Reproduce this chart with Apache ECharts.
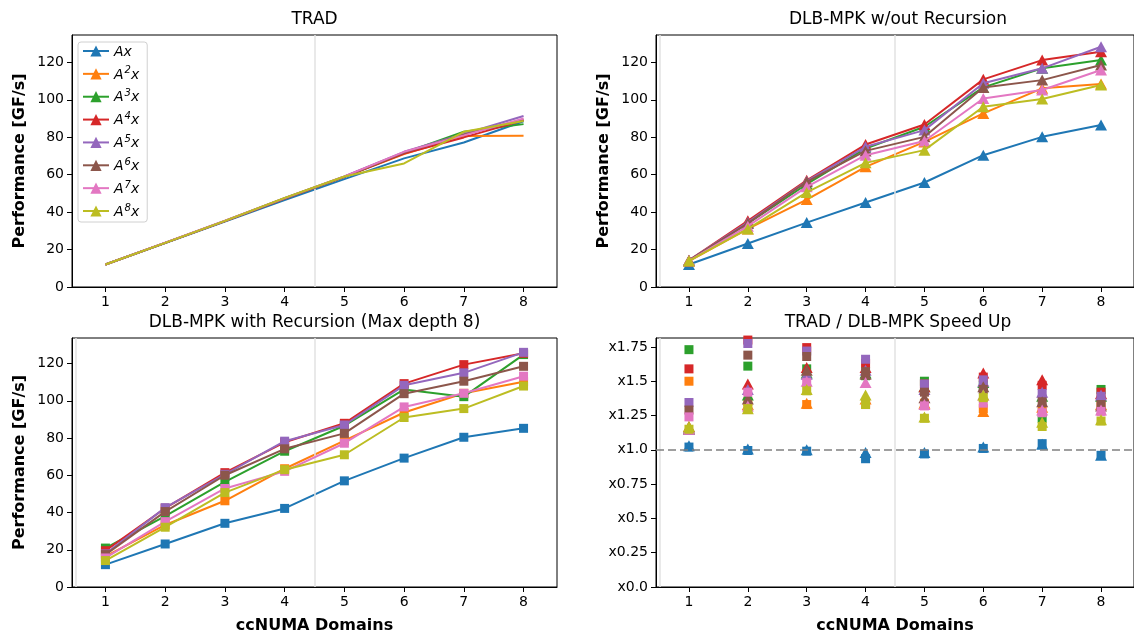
<!DOCTYPE html>
<html><head><meta charset="utf-8">
<script src="https://cdn.jsdelivr.net/npm/echarts@6/dist/echarts.min.js"></script>
<style>html,body{margin:0;padding:0;background:#fff}#c{width:1134px;height:635px}</style>
</head><body><div id="c"></div>
<script>
// ---------------- data ----------------
const domains = [1, 2, 3, 4, 5, 6, 7, 8];
const powers = [1, 2, 3, 4, 5, 6, 7, 8];
const seriesNames = ['Ax', 'A^2x', 'A^3x', 'A^4x', 'A^5x', 'A^6x', 'A^7x', 'A^8x'];
const colors = ['#1f77b4', '#ff7f0e', '#2ca02c', '#d62728', '#9467bd', '#8c564b', '#e377c2', '#bcbd22'];

// TRAD performance [GF/s]
const tradAx  = [12, 23.5, 35.0, 46.4, 57.6, 68.7, 77.2, 88.5];
const tradA2x = [12, 23.6, 35.2, 47.2, 58.8, 71.0, 80.6, 80.8];
const tradA3x = [12, 23.6, 35.2, 47.3, 58.8, 71.6, 82.9, 87.0];
const tradA4x = [12, 23.6, 35.2, 47.3, 58.8, 71.3, 79.9, 89.0];
const tradA5x = [12, 23.6, 35.3, 47.4, 59.0, 72.2, 81.7, 91.3];
const tradA6x = [12, 23.6, 35.3, 47.4, 58.9, 71.8, 81.4, 89.5];
const tradA7x = [12, 23.7, 35.4, 47.5, 59.1, 72.2, 81.0, 90.0];
const tradA8x = [12, 23.6, 35.3, 47.6, 59.0, 66.0, 82.9, 88.7];

// DLB-MPK w/out recursion
const noRecAx  = [12.0, 23.2, 34.4, 45.1, 55.8, 70.4, 80.2, 86.5];
const noRecA2x = [13.8, 31.0, 46.7, 64.2, 77.5, 92.7, 106.1, 108.4];
const noRecA3x = [14.0, 34.0, 54.9, 74.0, 85.6, 106.6, 116.8, 121.2];
const noRecA4x = [14.3, 35.4, 57.0, 76.1, 86.8, 110.9, 121.2, 125.7];
const noRecA5x = [14.2, 34.5, 56.5, 74.9, 83.8, 108.8, 116.8, 128.3];
const noRecA6x = [14.2, 34.0, 56.2, 72.7, 80.2, 106.6, 110.5, 118.6];
const noRecA7x = [14.0, 32.5, 53.5, 70.4, 78.0, 100.7, 105.2, 115.9];
const noRecA8x = [14.0, 31.0, 50.5, 66.3, 73.1, 96.3, 100.4, 107.9];

// DLB-MPK with recursion (max depth 8)
const recAx  = [12.0, 23.1, 34.2, 42.2, 57.0, 69.2, 80.4, 85.2];
const recA2x = [16.5, 33.3, 46.3, 63.5, 78.6, 93.7, 104.0, 110.2];
const recA3x = [20.9, 38.1, 56.4, 72.9, 86.6, 106.1, 102.2, 124.8];
const recA4x = [19.5, 42.3, 61.4, 77.7, 87.9, 109.2, 119.4, 125.5];
const recA5x = [17.8, 42.6, 60.5, 78.3, 87.0, 108.3, 115.0, 126.0];
const recA6x = [17.4, 40.5, 60.0, 74.2, 82.5, 103.8, 110.5, 118.5];
const recA7x = [15.6, 35.1, 52.9, 62.1, 77.2, 96.7, 104.0, 113.2];
const recA8x = [14.2, 32.1, 50.7, 63.0, 71.0, 91.0, 95.8, 107.9];

// Speed up: squares (with recursion), triangles (w/out recursion)
const spRecAx  = [1.02, 0.995, 0.99, 0.935, 0.97, 1.01, 1.045, 0.96];
const spRecA2x = [1.50, 1.35, 1.33, 1.34, 1.34, 1.30, 1.29, 1.34];
const spRecA3x = [1.73, 1.61, 1.59, 1.54, 1.50, 1.47, 1.23, 1.44];
const spRecA4x = [1.59, 1.80, 1.745, 1.63, 1.48, 1.53, 1.47, 1.42];
const spRecA5x = [1.345, 1.775, 1.72, 1.66, 1.48, 1.51, 1.41, 1.39];
const spRecA6x = [1.29, 1.69, 1.68, 1.57, 1.42, 1.44, 1.35, 1.33];
const spRecA7x = [1.24, 1.42, 1.49, 1.33, 1.32, 1.34, 1.27, 1.28];
const spRecA8x = [1.15, 1.30, 1.43, 1.33, 1.23, 1.38, 1.17, 1.21];

const spNoRecAx  = [1.03, 1.005, 1.0, 0.98, 0.98, 1.02, 1.04, 0.96];
const spNoRecA2x = [1.15, 1.33, 1.34, 1.37, 1.34, 1.28, 1.31, 1.33];
const spNoRecA3x = [1.15, 1.40, 1.56, 1.56, 1.46, 1.49, 1.39, 1.39];
const spNoRecA4x = [1.17, 1.48, 1.60, 1.60, 1.46, 1.56, 1.51, 1.41];
const spNoRecA5x = [1.15, 1.44, 1.55, 1.58, 1.44, 1.50, 1.42, 1.40];
const spNoRecA6x = [1.16, 1.37, 1.58, 1.55, 1.38, 1.46, 1.35, 1.32];
const spNoRecA7x = [1.15, 1.32, 1.50, 1.49, 1.33, 1.40, 1.29, 1.29];
const spNoRecA8x = [1.17, 1.30, 1.44, 1.40, 1.24, 1.40, 1.20, 1.22];

const perfTicks = [0, 20, 40, 60, 80, 100, 120];
const speedTicks = [0, 0.25, 0.5, 0.75, 1.0, 1.25, 1.5, 1.75];
const speedTickLabels = ['x0.0', 'x0.25', 'x0.5', 'x0.75', 'x1.0', 'x1.25', 'x1.5', 'x1.75'];
const dividersTrad = [4.5];
const dividersOther = [0.5, 4.5];
const speedBaseline = 1.0;

const titles = ['TRAD', 'DLB-MPK w/out Recursion', 'DLB-MPK with Recursion (Max depth 8)', 'TRAD / DLB-MPK Speed Up'];
const yName = 'Performance [GF/s]';
const xName = 'ccNUMA Domains';

// ---------------- chart ----------------
const trad = [tradAx, tradA2x, tradA3x, tradA4x, tradA5x, tradA6x, tradA7x, tradA8x];
const noRec = [noRecAx, noRecA2x, noRecA3x, noRecA4x, noRecA5x, noRecA6x, noRecA7x, noRecA8x];
const rec = [recAx, recA2x, recA3x, recA4x, recA5x, recA6x, recA7x, recA8x];
const spRec = [spRecAx, spRecA2x, spRecA3x, spRecA4x, spRecA5x, spRecA6x, spRecA7x, spRecA8x];
const spNoRec = [spNoRecAx, spNoRecA2x, spNoRecA3x, spNoRecA4x, spNoRecA5x, spNoRecA6x, spNoRecA7x, spNoRecA8x];

const FONT = 'DejaVu Sans';
const grids = [
  {left: 72, top: 35, width: 485, height: 252},
  {left: 656, top: 35, width: 484, height: 252},
  {left: 72, top: 338, width: 485, height: 251},
  {left: 656, top: 338, width: 484, height: 251}
].map(g => Object.assign(g, {show: true, borderColor: '#000', borderWidth: 1, backgroundColor: 'transparent'}));

const yMax = [134.6, 134.6, 133.7, 1.815];

const xAxes = [0, 1, 2, 3].map(i => ({
  type: 'value', gridIndex: i, min: 0.44, max: 8.56,
  name: i >= 2 ? xName : '', nameLocation: 'middle', nameGap: 31,
  nameTextStyle: {fontFamily: FONT, fontSize: 16, fontWeight: 'bold', color: '#000'},
  axisLine: {show: true, onZero: false, lineStyle: {color: '#000', width: 1}},
  axisTick: {show: true, inside: false, length: 5, customValues: domains, lineStyle: {color: '#000', width: 1}},
  axisLabel: {customValues: domains, margin: 8, color: '#000', fontSize: 14, fontFamily: FONT},
  splitLine: {show: false}
}));

const yAxes = [0, 1, 2, 3].map(i => {
  const ticks = i === 3 ? speedTicks : perfTicks;
  return {
    type: 'value', gridIndex: i, min: 0, max: yMax[i],
    name: i < 3 ? yName : '', nameLocation: 'middle', nameGap: 44,
    nameTextStyle: {fontFamily: FONT, fontSize: 16, fontWeight: 'bold', color: '#000'},
    axisLine: {show: true, onZero: false, lineStyle: {color: '#000', width: 1}},
    axisTick: {show: true, inside: false, length: 5, customValues: ticks, lineStyle: {color: '#000', width: 1}},
    axisLabel: {customValues: ticks, margin: 8, color: '#000', fontSize: 14, fontFamily: FONT,
      formatter: i === 3 ? (v => speedTickLabels[speedTicks.indexOf(v)] ?? '') : (v => String(v))},
    splitLine: {show: false}
  };
});

const series = [];
function divider(gi, vals) {
  series.push({
    type: 'line', xAxisIndex: gi, yAxisIndex: gi, data: [], z: 1, silent: true,
    markLine: {silent: true, symbol: 'none', animation: false, label: {show: false},
      lineStyle: {color: '#e2e2e2', width: 1.5, type: 'solid'},
      data: vals.map(v => ({xAxis: v}))}
  });
}
divider(0, dividersTrad);
divider(1, dividersOther);
divider(2, dividersOther);
divider(3, dividersOther);
series.push({
  type: 'line', xAxisIndex: 3, yAxisIndex: 3, data: [], z: 1, silent: true,
  markLine: {silent: true, symbol: 'none', animation: false, label: {show: false},
    lineStyle: {color: '#808080', width: 1.5, type: [8, 4]},
    data: [{yAxis: speedBaseline}]}
});

const pts = arr => domains.map((d, i) => [d, arr[i]]);
powers.forEach((p, k) => {
  series.push({type: 'line', name: seriesNames[k], xAxisIndex: 0, yAxisIndex: 0, z: 3 + k,
    data: pts(trad[k]), symbol: 'triangle', symbolSize: 11, showSymbol: false,
    lineStyle: {width: 2, color: colors[k]}, itemStyle: {color: colors[k]}});
});
powers.forEach((p, k) => {
  series.push({type: 'line', name: seriesNames[k], xAxisIndex: 1, yAxisIndex: 1, z: 3 + k,
    data: pts(noRec[k]), symbol: 'triangle', symbolSize: [12, 11], showSymbol: true,
    lineStyle: {width: 2, color: colors[k]}, itemStyle: {color: colors[k]}});
});
powers.forEach((p, k) => {
  series.push({type: 'line', name: seriesNames[k], xAxisIndex: 2, yAxisIndex: 2, z: 3 + k,
    data: pts(rec[k]), symbol: 'rect', symbolSize: 9, showSymbol: true,
    lineStyle: {width: 2, color: colors[k]}, itemStyle: {color: colors[k]}});
});
powers.forEach((p, k) => {
  series.push({type: 'scatter', name: seriesNames[k], xAxisIndex: 3, yAxisIndex: 3, z: 3 + k,
    data: pts(spNoRec[k]), symbol: 'triangle', symbolSize: [12, 11], itemStyle: {color: colors[k], opacity: 1}});
  series.push({type: 'scatter', name: seriesNames[k], xAxisIndex: 3, yAxisIndex: 3, z: 3 + k,
    data: pts(spRec[k]), symbol: 'rect', symbolSize: 9, itemStyle: {color: colors[k], opacity: 1}});
});

const titleCenters = [[314.5, 11], [898, 11], [314.5, 314], [898, 314]];
const option = {
  animation: false,
  backgroundColor: '#fff',
  title: titles.map((t, i) => ({
    text: t, left: titleCenters[i][0], top: titleCenters[i][1], textAlign: 'center', padding: 0,
    textStyle: {fontFamily: FONT, fontSize: 17, fontWeight: 'normal', color: '#000'}
  })),
  legend: {
    left: 78, top: 42, orient: 'vertical', itemWidth: 26, itemHeight: 14, itemGap: 6.86,
    padding: [3, 8, 3, 4], borderColor: '#d0d0d0', borderWidth: 1, borderRadius: 3,
    backgroundColor: 'rgba(255,255,255,0.8)', selectedMode: false,
    data: seriesNames,
    formatter: name => {
      const m = name.match(/^A\^(\d)x$/);
      return m ? '{i|A}{s|' + m[1] + '}{i|x}' : '{i|' + name + '}';
    },
    textStyle: {
      fontFamily: FONT, fontSize: 14, color: '#000',
      rich: {
        i: {fontFamily: FONT, fontSize: 14, fontStyle: 'italic', color: '#000', verticalAlign: 'bottom', lineHeight: 16},
        s: {fontFamily: FONT, fontSize: 10, fontStyle: 'italic', color: '#000', verticalAlign: 'top', lineHeight: 16, padding: [0, 0, 0, 1]}
      }
    }
  },
  grid: grids,
  xAxis: xAxes,
  yAxis: yAxes,
  series: series
};
const chart = echarts.init(document.getElementById('c'), null, {renderer: 'canvas'});
chart.setOption(option);
</script></body></html>
